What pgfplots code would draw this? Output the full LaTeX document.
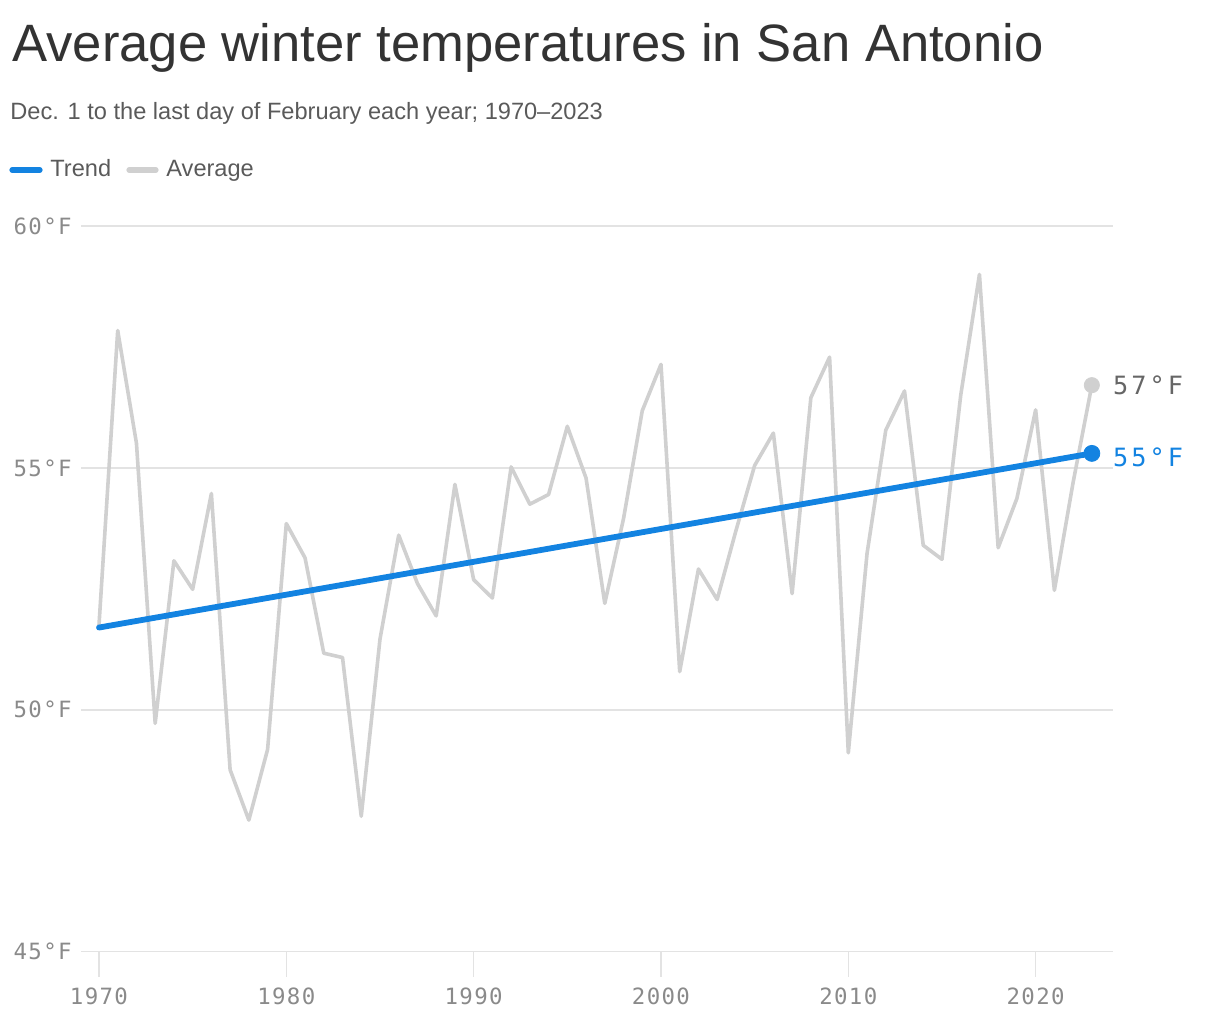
\documentclass[border=0pt]{standalone}
\usepackage{pgfplots}
\pgfplotsset{compat=1.18}
\usepackage{fontspec}
\setmainfont{Liberation Sans}
\newfontfamily\monofont[LetterSpace=6]{DejaVu Sans Mono}
\newfontfamily\monoend[LetterSpace=12]{DejaVu Sans Mono}

\definecolor{titlec}{HTML}{333333}
\definecolor{subc}{HTML}{5A5A5A}
\definecolor{tickc}{HTML}{8A8A8A}
\definecolor{gridc}{HTML}{E3E3E3}
\definecolor{avgc}{HTML}{D0D0D0}
\definecolor{trendc}{HTML}{1383E1}
\definecolor{endc}{HTML}{666666}

% one reference pixel = 0.5pt, origin at the top left corner
\begin{document}
\begin{tikzpicture}
\begin{scope}[x=0.5pt,y=-0.5pt]
\path[use as bounding box] (0,0) rectangle (1220,1020);
\node[anchor=base west,inner sep=0pt,text=titlec,font=\fontsize{26.3}{30}\selectfont] at (12,62) {Average winter temperatures in San Antonio};
\node[anchor=base west,inner sep=0pt,text=subc,font=\fontsize{11.8}{14}\selectfont] at (10,120) {Dec. 1 to the last day of February each year; 1970–2023};
% legend
\draw[trendc,line width=2.6pt,line cap=round] (12,170) -- (40,170);
\node[anchor=base west,inner sep=0pt,text=subc,font=\fontsize{11.8}{14}\selectfont] at (50,177) {Trend};
\draw[avgc,line width=2.6pt,line cap=round] (129,170) -- (156,170);
\node[anchor=base west,inner sep=0pt,text=subc,font=\fontsize{11.8}{14}\selectfont] at (166,177) {Average};
\end{scope}

\begin{pgfinterruptboundingbox}
\begin{axis}[
  at={(40.5pt,-475.85pt)}, anchor=south west,
  scale only axis, width=516pt, height=362.85pt,
  xmin=1969.04, xmax=2024.13,
  ymin=45, ymax=60,
  xtick={1970,1980,1990,2000,2010,2020},
  ytick={45,50,55,60},
  xticklabel={\pgfmathprintnumber[int detect,1000 sep={}]{\tick}},
  yticklabel={\pgfmathprintnumber{\tick}°F},
  ticklabel style={font=\monofont\fontsize{11.2}{13}\selectfont, text=tickc, inner sep=0pt},
  % tick align=outside already moves the labels out by the tick length (12.5pt)
  yticklabel style={anchor=east, xshift=8pt},
  xticklabel style={anchor=north, yshift=-5.5pt},
  /pgf/number format/assume math mode=true,
  axis line style={draw=none},
  ymajorgrids, grid style={gridc, line width=0.75pt},
  xtick pos=bottom, tick align=outside, major tick length=12.5pt,
  xtick style={gridc, line width=0.75pt},
  ytick style={draw=none},
  clip=false,
]
\addplot[avgc, line width=1.8pt, line join=round, mark=none] coordinates {
(1970,51.75) (1971,57.84) (1972,55.51) (1973,49.72) (1974,53.08) (1975,52.49)
(1976,54.47) (1977,48.76) (1978,47.72) (1979,49.18) (1980,53.85) (1981,53.14)
(1982,51.17) (1983,51.08) (1984,47.80) (1985,51.46) (1986,53.61) (1987,52.61)
(1988,51.94) (1989,54.66) (1990,52.69) (1991,52.31) (1992,55.02) (1993,54.25)
(1994,54.45) (1995,55.86) (1996,54.79) (1997,52.20) (1998,53.95) (1999,56.18)
(2000,57.14) (2001,50.79) (2002,52.91) (2003,52.28) (2004,53.70) (2005,55.05)
(2006,55.72) (2007,52.40) (2008,56.45) (2009,57.29) (2010,49.11) (2011,53.23)
(2012,55.78) (2013,56.59) (2014,53.40) (2015,53.11) (2016,56.50) (2017,59.00)
(2018,53.35) (2019,54.37) (2020,56.20) (2021,52.47) (2022,54.70) (2023,56.71)
};
\addplot[trendc, line width=2.9pt, line cap=round, mark=none] coordinates {
(1970,51.70) (2023,55.30)
};
% end points
\addplot[avgc, only marks, mark=*, mark size=3.8pt] coordinates {(2023,56.71)};
\addplot[trendc, only marks, mark=*, mark size=4pt] coordinates {(2023,55.30)};
\node[anchor=west,inner sep=0pt,text=endc,font=\monoend\fontsize{12.6}{15}\selectfont,xshift=10.5pt] at (axis cs:2023,56.71) {57°F};
\node[anchor=west,inner sep=0pt,text=trendc,font=\monoend\fontsize{12.6}{15}\selectfont,xshift=10.5pt] at (axis cs:2023,55.22) {55°F};
\end{axis}
\end{pgfinterruptboundingbox}
\end{tikzpicture}
\end{document}
